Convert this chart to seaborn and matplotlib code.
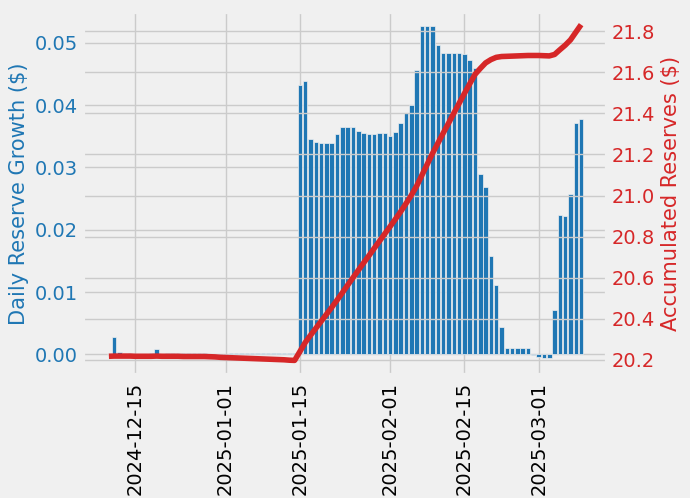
import numpy as np
import pandas as pd
import matplotlib
matplotlib.use("Agg")
import matplotlib.pyplot as plt
import matplotlib.dates as mdates
import seaborn as sns

# ---------------- data ----------------
start_date = "2024-12-10"
end_date = "2025-03-09"

daily_growth = [
    # Dec 10 - Dec 31
    0.0, 0.0027, 0.0004, 0.0001, 0.0002, 0.0, 0.0001, 0.0001, 0.0002, 0.0008, 0.0001,
    0.0002, 0.0002, 0.0002, 0.0002, 0.0002, 0.0002, 0.0002, 0.0002,
    -0.0006, -0.0006, -0.0006,
    # Jan 1 - Jan 31
    -0.0006,
    0.0002, 0.0002, 0.0002, 0.0002, 0.0002, 0.0002, 0.0002, 0.0002, 0.0002, 0.0002,
    0.0002, 0.0002, 0.0002,
    0.0432, 0.0438, 0.0346, 0.0341, 0.0340, 0.0340, 0.0340, 0.0353, 0.0365, 0.0365,
    0.0365, 0.0358, 0.0355, 0.0354, 0.0354, 0.0355, 0.0356,
    # Feb 1 - Feb 28
    0.0351, 0.0357, 0.0371, 0.0388, 0.0400, 0.0457, 0.0527, 0.0527, 0.0527, 0.0496,
    0.0484, 0.0484, 0.0484, 0.0483, 0.0482, 0.0473, 0.0460, 0.0289, 0.0268, 0.0158,
    0.0111, 0.0044, 0.0010, 0.0010, 0.0010, 0.0010, 0.0010, -0.0001,
    # Mar 1 - Mar 9
    -0.0004, -0.0006, -0.0006, 0.0071, 0.0224, 0.0222, 0.0257, 0.0371, 0.0377,
]

accumulated_reserves = [
    # Dec 10 - Dec 28
    20.218, 20.219, 20.219, 20.219, 20.219, 20.218, 20.218, 20.218, 20.218, 20.219,
    20.218, 20.218, 20.218, 20.218, 20.217, 20.217, 20.217, 20.217, 20.217,
    # Dec 29 - Jan 14
    20.216, 20.215, 20.213, 20.212, 20.211, 20.210, 20.209, 20.208, 20.207, 20.206,
    20.205, 20.204, 20.203, 20.202, 20.201, 20.199, 20.198,
    # Jan 15 - Jan 31
    20.241, 20.285, 20.320, 20.354, 20.388, 20.422, 20.456, 20.491, 20.527, 20.564,
    20.600, 20.636, 20.672, 20.707, 20.743, 20.778, 20.814,
    # Feb 1 - Feb 28
    20.849, 20.885, 20.922, 20.961, 21.001, 21.046, 21.099, 21.152, 21.205, 21.254,
    21.303, 21.351, 21.400, 21.448, 21.496, 21.543, 21.589, 21.618, 21.645, 21.661,
    21.672, 21.676, 21.677, 21.678, 21.679, 21.680, 21.681, 21.681,
    # Mar 1 - Mar 9
    21.681, 21.680, 21.679, 21.686, 21.709, 21.731, 21.757, 21.794, 21.831,
]

dates = pd.date_range(start_date, end_date, freq="D")
df = pd.DataFrame({
    "x": mdates.date2num(dates),
    "growth": daily_growth,
    "reserves": accumulated_reserves,
})

# ---------------- style ----------------
plt.style.use("fivethirtyeight")
plt.rcParams["font.family"] = ["DejaVu Sans"]
plt.rcParams["font.size"] = 14

BLUE = "#1f77b4"
RED = "#d62728"

fig, ax1 = plt.subplots(figsize=(6.9, 4.98), dpi=100)
fig.subplots_adjust(left=0.120, right=0.880, top=0.9765, bottom=0.247)

sns.barplot(data=df, x="x", y="growth", native_scale=True, color=BLUE,
            saturation=1, errorbar=None, ax=ax1, width=0.85,
            edgecolor="#f0f0f0", linewidth=0.5)

ax2 = ax1.twinx()
sns.lineplot(data=df, x="x", y="reserves", color=RED, linewidth=4, ax=ax2)

ax1.xaxis.set_major_locator(mdates.DayLocator(bymonthday=[1, 15]))
ax1.xaxis.set_major_formatter(mdates.DateFormatter("%Y-%m-%d"))
for lab in ax1.get_xticklabels():
    lab.set_rotation(90)

ax1.set_ylim(-0.00332, 0.0550)
ax2.set_ylim(20.127, 21.894)

ax1.set_xlabel("")
ax2.set_xlabel("")
ax1.set_ylabel("Daily Reserve Growth ($)", color=BLUE, fontsize=15.1)
ax2.set_ylabel("Accumulated Reserves ($)", color=RED, fontsize=15.1)
ax1.tick_params(axis="y", labelcolor=BLUE, labelsize=14)
ax2.tick_params(axis="y", labelcolor=RED, labelsize=14)
ax1.tick_params(axis="x", labelsize=14, pad=5)

fig.savefig("out.png", dpi=100, facecolor="#f0f0f0")
